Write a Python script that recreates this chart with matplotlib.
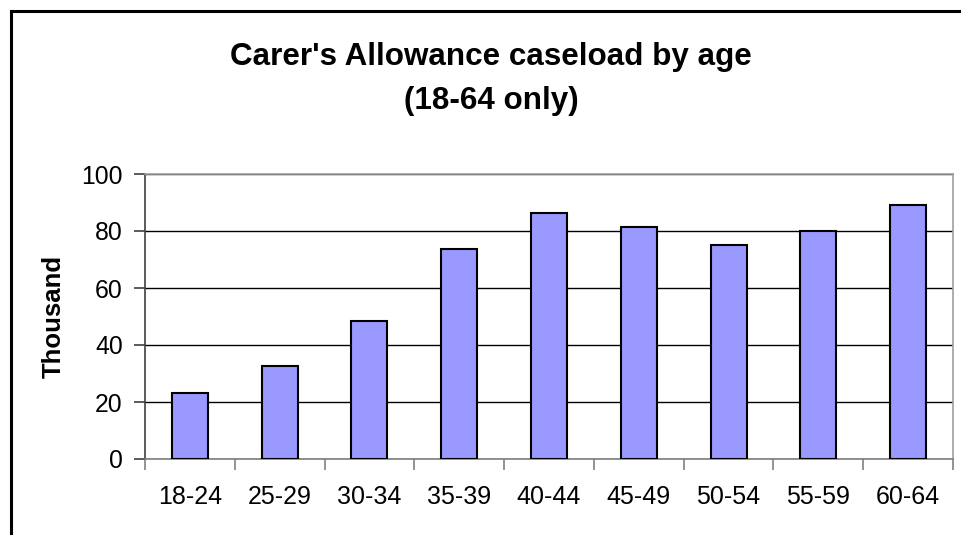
import matplotlib.pyplot as plt
import matplotlib.patches as mpatches
import numpy as np

plt.rcParams['font.family'] = ['Liberation Sans', 'DejaVu Sans']

age_groups = ['18-24', '25-29', '30-34', '35-39', '40-44', '45-49', '50-54', '55-59', '60-64']
caseload = [23.2, 32.8, 48.3, 73.7, 86.3, 81.3, 75.1, 80.1, 89.2]
y_ticks = [0, 20, 40, 60, 80, 100]

BAR_COLOR = '#9999FF'

fig = plt.figure(figsize=(9.62, 5.35), dpi=100)
ax = fig.add_axes([145 / 962, 1 - 459 / 535, 808 / 962, 285 / 535])

x = np.arange(len(age_groups))
ax.bar(x, caseload, width=0.40, color=BAR_COLOR, edgecolor='black', linewidth=1.5, zorder=3)

ax.set_xlim(-0.5, len(age_groups) - 0.5)
ax.set_ylim(0, 100)
ax.set_yticks(y_ticks)
ax.set_yticklabels([str(v) for v in y_ticks], fontsize=17.8)
ax.yaxis.grid(True, color='black', linewidth=1.0, zorder=0)

# category labels centred, ticks on the boundaries
ax.set_xticks(x)
ax.set_xticklabels(age_groups, fontsize=18)
ax.tick_params(axis='x', length=0, pad=19)
ax.set_xticks(np.arange(len(age_groups) + 1) - 0.5, minor=True)
ax.tick_params(axis='x', which='minor', length=8, width=1.2, color='#808080', direction='out')
ax.tick_params(axis='y', length=8, width=1.2, color='#404040', direction='out', pad=8)

ax.spines['top'].set_color('#a0a0a0')
ax.spines['right'].set_color('#a0a0a0')
ax.spines['bottom'].set_color('#808080')
ax.spines['left'].set_color('#404040')
for s in ax.spines.values():
    s.set_linewidth(1.2)

ax.set_ylabel('Thousand', fontsize=18.5, fontweight='bold', labelpad=11)

fig.text(491 / 962, 1 - 57 / 535, "Carer's Allowance caseload by age",
         fontsize=22.6, fontweight='bold', ha='center', va='center')
fig.text(491 / 962, 1 - 101 / 535, '(18-64 only)',
         fontsize=22.6, fontweight='bold', ha='center', va='center')

# chart frame (runs off the right and bottom of the image)
frame = mpatches.Rectangle((11 / 962, -0.1), 1.2, 1 - 11 / 535 + 0.1,
                           transform=fig.transFigure, fill=False,
                           edgecolor='black', linewidth=2.2, clip_on=False)
fig.patches.append(frame)

fig.savefig('out.png', dpi=100)
